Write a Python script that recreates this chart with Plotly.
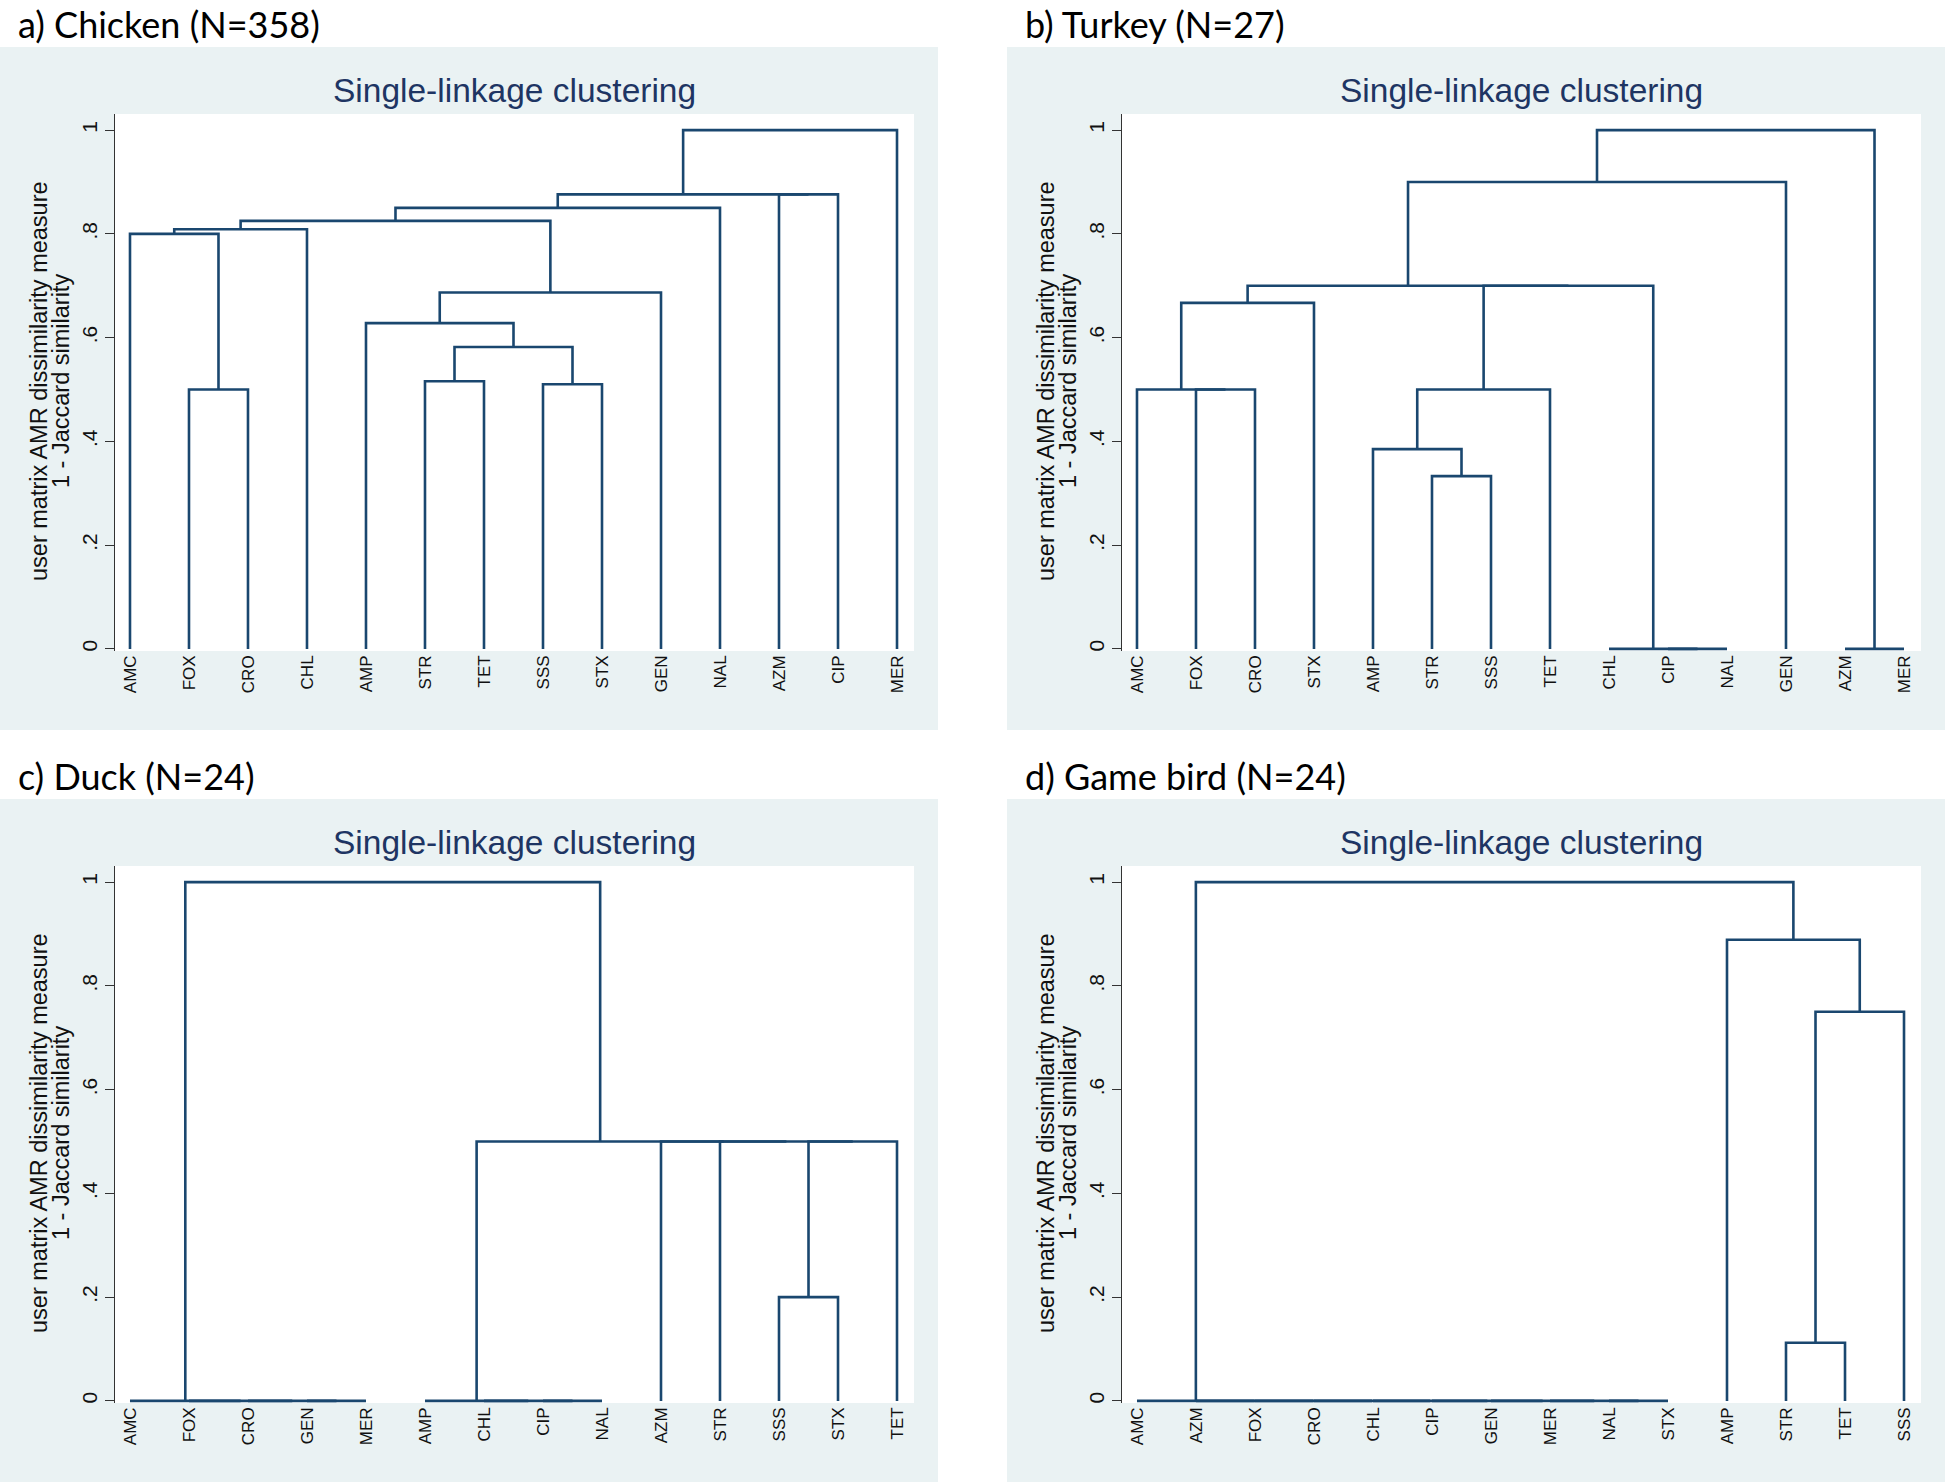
import plotly.graph_objects as go

W, H = 1945, 1482

# ---------------- data ----------------
chicken_leaves = ["AMC", "FOX", "CRO", "CHL", "AMP", "STR", "TET", "SSS", "STX", "GEN", "NAL", "AZM", "CIP", "MER"]
# merges: (left, right, height); str = leaf label, int = index of an earlier merge
chicken_merges = [
    ("FOX", "CRO", 0.500), ("AMC", 0, 0.800), (1, "CHL", 0.809),
    ("STR", "TET", 0.516), ("SSS", "STX", 0.510), (3, 4, 0.582),
    ("AMP", 5, 0.628), (6, "GEN", 0.687), (2, 7, 0.825),
    (8, "NAL", 0.850), ("AZM", "CIP", 0.876), (9, 10, 0.876),
    (11, "MER", 1.000),
]

turkey_leaves = ["AMC", "FOX", "CRO", "STX", "AMP", "STR", "SSS", "TET", "CHL", "CIP", "NAL", "GEN", "AZM", "MER"]
turkey_merges = [
    ("FOX", "CRO", 0.500), ("AMC", 0, 0.500), (1, "STX", 0.667),
    ("STR", "SSS", 0.333), ("AMP", 3, 0.385), (4, "TET", 0.500),
    ("CIP", "NAL", 0.0), ("CHL", 6, 0.0), (5, 7, 0.700),
    (2, 8, 0.700), (9, "GEN", 0.900), ("AZM", "MER", 0.0),
    (10, 11, 1.000),
]

duck_leaves = ["AMC", "FOX", "CRO", "GEN", "MER", "AMP", "CHL", "CIP", "NAL", "AZM", "STR", "SSS", "STX", "TET"]
duck_merges = [
    ("GEN", "MER", 0.0), ("CRO", 0, 0.0), ("FOX", 1, 0.0), ("AMC", 2, 0.0),
    ("CIP", "NAL", 0.0), ("CHL", 4, 0.0), ("AMP", 5, 0.0),
    ("SSS", "STX", 0.200), (7, "TET", 0.500), ("STR", 8, 0.500),
    ("AZM", 9, 0.500), (6, 10, 0.500), (3, 11, 1.000),
]

gamebird_leaves = ["AMC", "AZM", "FOX", "CRO", "CHL", "CIP", "GEN", "MER", "NAL", "STX", "AMP", "STR", "TET", "SSS"]
gamebird_merges = [
    ("NAL", "STX", 0.0), ("MER", 0, 0.0), ("GEN", 1, 0.0), ("CIP", 2, 0.0),
    ("CHL", 3, 0.0), ("CRO", 4, 0.0), ("FOX", 5, 0.0), ("AZM", 6, 0.0),
    ("AMC", 7, 0.0), ("STR", "TET", 0.112), (9, "SSS", 0.750),
    ("AMP", 10, 0.889), (8, 11, 1.000),
]

panel_titles = ["a) Chicken (N=358)", "b) Turkey (N=27)", "c) Duck (N=24)", "d) Game bird (N=24)"]
inner_title = "Single-linkage clustering"
ytitle_1 = "user matrix AMR dissimilarity measure"
ytitle_2 = "1 - Jaccard similarity"
y_tickvals = [0, 0.2, 0.4, 0.6, 0.8, 1.0]
y_ticktext = ["0", ".2", ".4", ".6", ".8", "1"]

panels = [
    (chicken_leaves, chicken_merges),
    (turkey_leaves, turkey_merges),
    (duck_leaves, duck_merges),
    (gamebird_leaves, gamebird_merges),
]

# ---------------- style / layout ----------------
LINE = "#1A476F"
TITLE_BLUE = "#1E3563"
BG = "#EAF2F3"
AXC = "#333333"
FONT = "Liberation Sans, Arial, sans-serif"
TFONT = "Lato, Open Sans, sans-serif"

offsets = [(0, 0), (1007, 0), (0, 752), (1007, 752)]
PL, PR, PT, PB = 115, 914, 114, 651      # plot area (pixels) of panel a
BGL, BGR, BGT, BGB = 0, 938, 47, 730     # background box of panel a


def px(x):
    return x / W


def py(y):
    return 1 - y / H


def links(leaves, merges):
    pos = {lab: i + 1 for i, lab in enumerate(leaves)}
    nx, nh = [], []
    xs, ys = [], []
    for l, r, h in merges:
        def get(c):
            if isinstance(c, str):
                return pos[c], 0.0
            return nx[c], nh[c]
        xl, yl = get(l)
        xr, yr = get(r)
        xs += [xl, xl, xr, xr, None]
        ys += [yl, h, h, yr, None]
        nx.append((xl + xr) / 2)
        nh.append(h)
    return xs, ys


fig = go.Figure()
shapes, annotations = [], []

for i, ((leaves, merges), (dx, dy)) in enumerate(zip(panels, offsets)):
    k = "" if i == 0 else str(i + 1)
    xs, ys = links(leaves, merges)
    fig.add_trace(go.Scatter(
        x=xs, y=ys, mode="lines", xaxis="x" + k, yaxis="y" + k,
        line=dict(color=LINE, width=2.6), hoverinfo="skip", showlegend=False,
    ))
    fig.update_layout(**{
        "xaxis" + k: dict(
            domain=[px(PL + dx), px(PR + dx)], anchor="y" + k,
            range=[0.746, 14.288], tickvals=list(range(1, len(leaves) + 1)),
            ticktext=leaves, tickangle=-90, ticks="", showline=False,
            showgrid=False, zeroline=False,
            tickfont=dict(family=FONT, size=17, color="#111111"),
        ),
        "yaxis" + k: dict(
            domain=[py(PB + dy), py(PT + dy)], anchor="x" + k,
            range=[-0.004, 1.031], tickvals=y_tickvals, ticktext=y_ticktext,
            tickangle=-90, ticks="outside", ticklen=9, tickwidth=1, tickcolor=AXC,
            showline=True, linecolor=AXC, linewidth=1, showgrid=False, zeroline=False,
            tickfont=dict(family=FONT, size=21, color="#111111"),
        ),
    })
    # background box and white plot region
    shapes.append(dict(type="rect", xref="paper", yref="paper", layer="below",
                       x0=px(BGL + dx), x1=px(min(BGR + dx, W)), y0=py(min(BGB + dy, H)), y1=py(BGT + dy),
                       fillcolor=BG, line=dict(width=0)))
    shapes.append(dict(type="rect", xref="paper", yref="paper", layer="below",
                       x0=px(PL + dx), x1=px(PR + dx), y0=py(PB + dy), y1=py(PT + dy),
                       fillcolor="white", line=dict(width=0)))
    # panel title
    annotations.append(dict(text=panel_titles[i], xref="paper", yref="paper",
                            x=px(16 + dx), y=py(0 + dy), xanchor="left", yanchor="top",
                            showarrow=False, font=dict(family=TFONT, size=36, color="black")))
    # inner title
    annotations.append(dict(text=inner_title, xref="paper", yref="paper",
                            x=px((PL + PR) / 2 + dx), y=py(90 + dy), xanchor="center", yanchor="middle",
                            showarrow=False, font=dict(family=FONT, size=33.5, color=TITLE_BLUE)))
    # y-axis title (two lines)
    annotations.append(dict(text=ytitle_1, xref="paper", yref="paper", textangle=-90,
                            x=px(39 + dx), y=py(381 + dy), xanchor="center", yanchor="middle",
                            showarrow=False, font=dict(family=FONT, size=23.5, color="#111111")))
    annotations.append(dict(text=ytitle_2, xref="paper", yref="paper", textangle=-90,
                            x=px(61 + dx), y=py(381 + dy), xanchor="center", yanchor="middle",
                            showarrow=False, font=dict(family=FONT, size=23.5, color="#111111")))

fig.update_layout(
    width=W, height=H, margin=dict(l=0, r=0, t=0, b=0),
    paper_bgcolor="white", plot_bgcolor="rgba(0,0,0,0)",
    shapes=shapes, annotations=annotations, showlegend=False,
)

fig.write_html("out.html", config={"displayModeBar": False},
               post_script="document.body.style.margin='0px';")
